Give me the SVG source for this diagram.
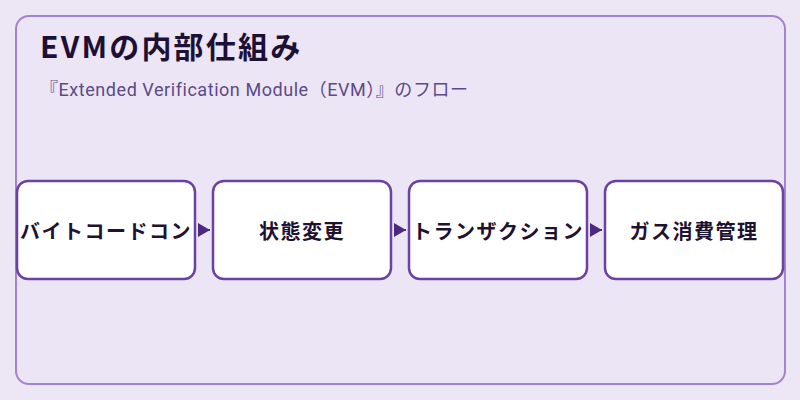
<svg xmlns="http://www.w3.org/2000/svg" width="800" height="400" viewBox="0 0 800 400">
  <defs>
    <style>
      .panel { fill: #ece5f5; stroke: #a283d1; stroke-width: 2; }
      .box { fill: #ffffff; stroke: #6b42a3; stroke-width: 2.5; }
      .label { font-family: "Noto Sans CJK JP", "Noto Sans", sans-serif; font-size: 20px; font-weight: 700; fill: #1d1230; text-anchor: middle; dominant-baseline: central; letter-spacing: 1.5px; }
      .title { font-family: "Noto Sans CJK JP", "Noto Sans", sans-serif; font-size: 30px; font-weight: 700; fill: #1e1035; letter-spacing: 2.2px; }
      .subtitle { font-family: Roboto, "Noto Sans CJK JP", sans-serif; font-size: 18px; fill: #5b4a85; letter-spacing: 0.55px; }
      .conn { stroke: #4b2a80; stroke-width: 2; fill: none; }
    </style>
    <marker id="arrow" viewBox="0 0 12 14" refX="12" refY="7" markerWidth="12" markerHeight="14" markerUnits="userSpaceOnUse" orient="auto">
      <path d="M0,0 L12,7 L0,14 Z" fill="#4b2a80"/>
    </marker>
  </defs>
  <rect x="0" y="0" width="800" height="400" fill="#ede6f5"/>
  <rect class="panel" x="16" y="16" width="769" height="368" rx="13"/>
  <text class="title" x="40" y="58">EVMの内部仕組み</text>
  <text class="subtitle" x="40" y="96">『Extended Verification Module（EVM）』のフロー</text>
  <g id="connectors">
    <path class="conn" d="M198,230 L210,230" marker-end="url(#arrow)"/>
    <path class="conn" d="M394,230 L406,230" marker-end="url(#arrow)"/>
    <path class="conn" d="M590,230 L602,230" marker-end="url(#arrow)"/>
  </g>
  <g id="node1">
    <rect class="box" x="17" y="181" width="178" height="98" rx="11"/>
    <text class="label" x="106" y="230">バイトコードコン</text>
  </g>
  <g id="node2">
    <rect class="box" x="213" y="181" width="178" height="98" rx="11"/>
    <text class="label" x="302" y="230">状態変更</text>
  </g>
  <g id="node3">
    <rect class="box" x="409" y="181" width="178" height="98" rx="11"/>
    <text class="label" x="498" y="230">トランザクション</text>
  </g>
  <g id="node4">
    <rect class="box" x="605" y="181" width="178" height="98" rx="11"/>
    <text class="label" x="694" y="230">ガス消費管理</text>
  </g>
</svg>
